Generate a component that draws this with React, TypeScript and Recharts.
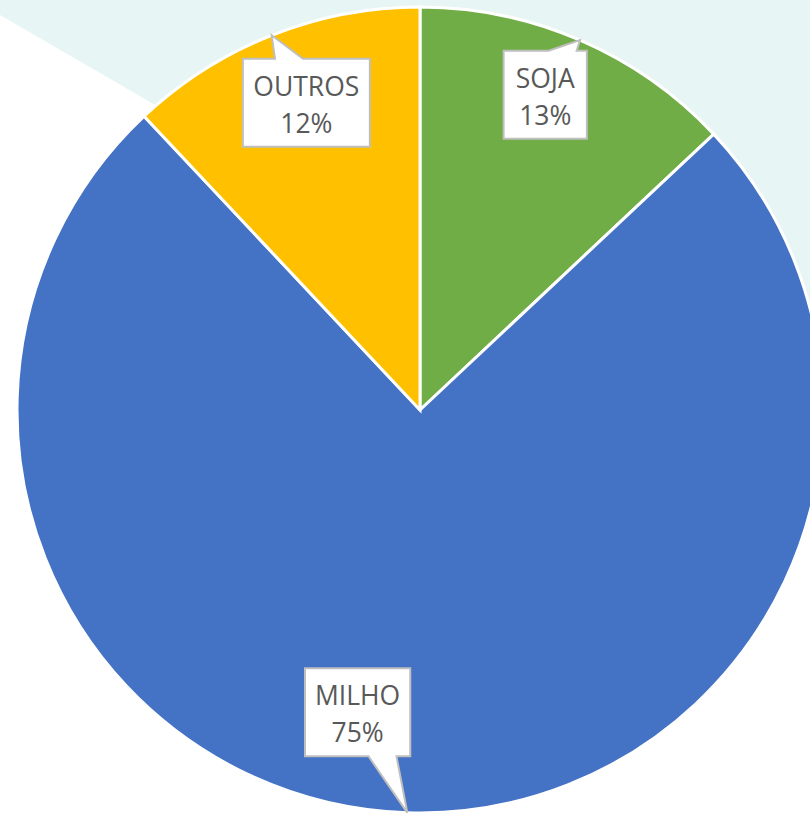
import { PieChart, Pie, Cell } from 'recharts';

// Share by crop (%)
const categories = ['SOJA', 'MILHO', 'OUTROS'];
const shares = [13, 75, 12];
const sliceColors = ['#70AD47', '#4472C4', '#FFC000'];

// Manual callout placement (Excel-style), relative to the radial anchor
const labelOffsets = [
  { dx: -6, dy: -12 },
  { dx: -52, dy: -28 },
  { dx: 8, dy: 0 },
];

const data = categories.map((name, i) => ({ name, value: shares[i] }));

const RADIAN = Math.PI / 180;

// rough text width for the callout box
function textWidth(s: string) {
  let w = 0;
  for (const ch of s) {
    if ('IJ1'.includes(ch)) w += 8.75;
    else if (ch === 'M') w += 22;
    else w += 17.5;
  }
  return w;
}

function CalloutLabel(props: any) {
  const { cx, cy, midAngle, outerRadius, percent, name, index } = props;
  const cos = Math.cos(-midAngle * RADIAN);
  const sin = Math.sin(-midAngle * RADIAN);
  // tip sits on the outer edge at the middle of the slice
  const tipX = cx + outerRadius * cos;
  const tipY = cy + outerRadius * sin;
  const off = labelOffsets[index] || { dx: 0, dy: 0 };
  const r = outerRadius * 0.82;
  const bx = cx + r * cos + off.dx;
  const by = cy + r * sin + off.dy;

  const line1 = name;
  const line2 = `${Math.round(percent * 100)}%`;
  const w = Math.max(textWidth(line1), textWidth(line2)) + 22;
  const h = 88;
  const left = bx - w / 2;
  const right = bx + w / 2;
  const top = by - h / 2;
  const bottom = by + h / 2;

  const baseW = 28;
  let baseC = bx + 0.5 * (tipX - bx);
  baseC = Math.min(Math.max(baseC, left + baseW / 2 + 4), right - baseW / 2 - 4);
  const bl = baseC - baseW / 2;
  const br = baseC + baseW / 2;

  let d: string;
  if (tipY < top) {
    d = `M${left},${top} L${bl},${top} L${tipX},${tipY} L${br},${top} L${right},${top} L${right},${bottom} L${left},${bottom} Z`;
  } else {
    d = `M${left},${top} L${right},${top} L${right},${bottom} L${br},${bottom} L${tipX},${tipY} L${bl},${bottom} L${left},${bottom} Z`;
  }

  return (
    <g>
      <path d={d} fill="#FFFFFF" stroke="#BFBFBF" strokeWidth={2} strokeLinejoin="miter" />
      <text
        x={bx}
        y={by - 7}
        textAnchor="middle"
        fill="#595959"
        fontSize={26.5}
        fontFamily="'Open Sans', sans-serif"
      >
        {line1}
      </text>
      <text
        x={bx}
        y={by + 30}
        textAnchor="middle"
        fill="#595959"
        fontSize={26.5}
        fontFamily="'Open Sans', sans-serif"
      >
        {line2}
      </text>
    </g>
  );
}

export default function App() {
  return (
    <div
      style={{
        position: 'absolute',
        top: 0,
        left: 0,
        width: 810,
        height: 813,
        overflow: 'hidden',
        background: '#FFFFFF',
      }}
    >
      {/* decorative background band */}
      <svg width={810} height={813} style={{ position: 'absolute', top: 0, left: 0 }}>
        <polygon points="0,0 810,0 810,485 0,15" fill="#E7F6F4" />
      </svg>
      <div style={{ position: 'absolute', top: 0, left: 0 }}>
        <PieChart width={810} height={813} margin={{ top: 0, right: 0, bottom: 0, left: 0 }}>
          <Pie
            data={data}
            dataKey="value"
            nameKey="name"
            cx={420}
            cy={410}
            outerRadius={403}
            startAngle={90}
            endAngle={-270}
            stroke="#FFFFFF"
            strokeWidth={3}
            label={CalloutLabel}
            labelLine={false}
            isAnimationActive={false}
          >
            {data.map((d, i) => (
              <Cell key={d.name} fill={sliceColors[i]} />
            ))}
          </Pie>
        </PieChart>
      </div>
    </div>
  );
}
